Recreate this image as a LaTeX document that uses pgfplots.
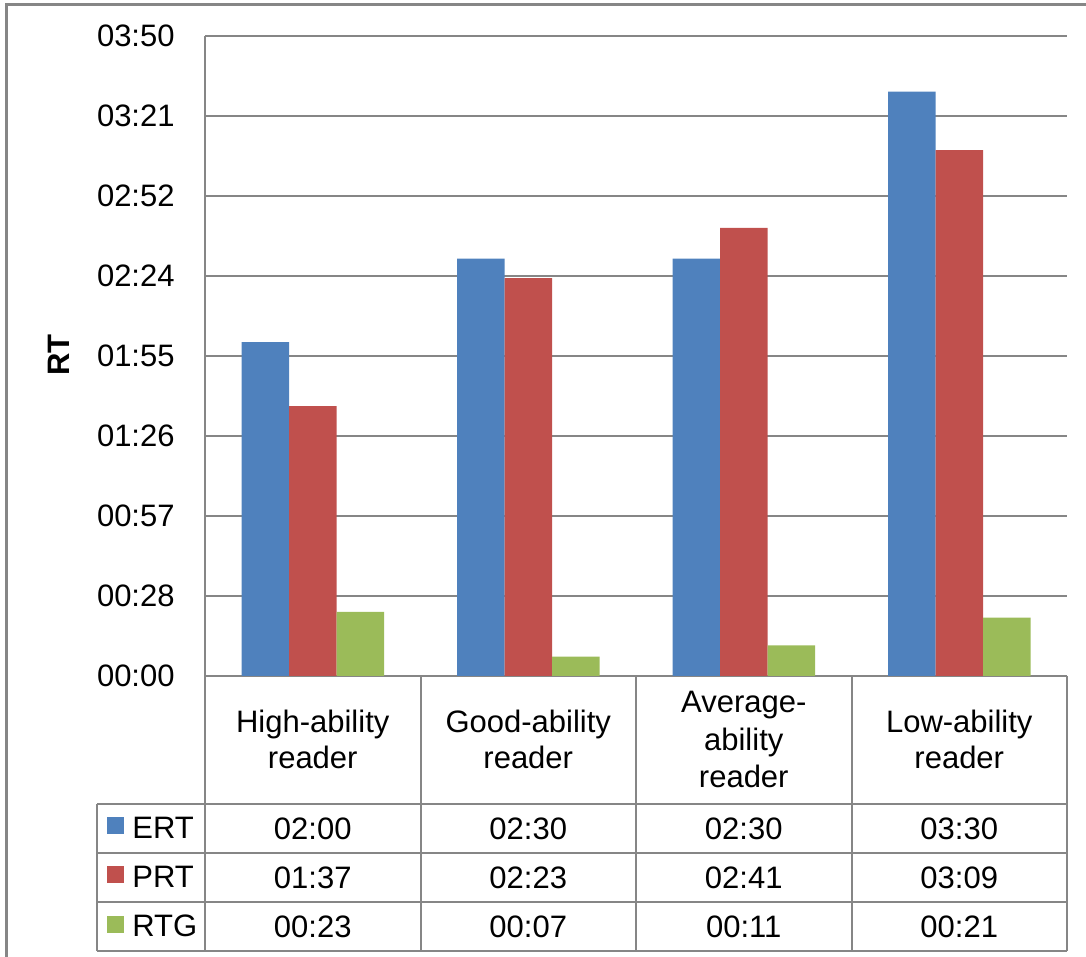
\documentclass[border=0pt]{standalone}
\usepackage{fontspec}
\setmainfont{Liberation Sans}
\usepackage{pgfplots}
\pgfplotsset{compat=1.18}

\definecolor{ertblue}{HTML}{4F81BD}
\definecolor{prtred}{HTML}{C0504D}
\definecolor{rtggreen}{HTML}{9BBB59}
\definecolor{rulegray}{HTML}{868686}

\begin{document}
\fontsize{15.5}{18.5}\selectfont
% one unit = one pixel of the finished picture
\begin{tikzpicture}[x=0.5pt, y=0.5pt, font=\fontsize{15.5}{18.5}\selectfont]
\useasboundingbox (0,0) rectangle (1086,957);

% chart frame
\draw[rulegray, line width=1.2pt] (6.5,-20) -- (6.5,952.5) -- (1120,952.5);

\coordinate (plotorigin) at (205,281);

\begin{axis}[
  at={(plotorigin)}, anchor=south west,
  scale only axis, width=431pt, height=320pt,
  xmin=-0.5, xmax=3.5, ymin=0, ymax=230,
  ybar=0pt, bar width=23.75pt,
  xtick=\empty,
  ytick={0,28.75,57.5,86.25,115,143.75,172.5,201.25,230},
  yticklabels={00:00,00:28,00:57,01:26,01:55,02:24,02:52,03:21,03:50},
  /pgf/number format/assume math mode=true,
  yticklabel style={inner sep=0pt, anchor=east, xshift=-15pt},
  major tick length=0pt,
  axis lines*=left,
  axis line style={rulegray, line width=1pt},
  ymajorgrids, grid style={rulegray, line width=1pt},
  clip=false,
]
% response times in seconds
\addplot[fill=ertblue, draw=none] coordinates {(0,120) (1,150) (2,150) (3,210)};
\addplot[fill=prtred, draw=none] coordinates {(0,97) (1,143) (2,161) (3,189)};
\addplot[fill=rtggreen, draw=none] coordinates {(0,23) (1,7) (2,11) (3,21)};
\end{axis}

% axis title
\node[rotate=90, font=\fontsize{15.5}{18.5}\selectfont\bfseries] at (59,602) {RT};

% data table grid
\begin{scope}[rulegray, line width=1pt]
  \foreach \yy in {153,104,55,6} \draw (97,\yy) -- (1067,\yy);
  \draw (97,153) -- (97,6);
  \foreach \xx in {205,420.5,636,851.5,1067} \draw (\xx,281) -- (\xx,6);
\end{scope}

% category headings
\begin{scope}[every node/.style={inner sep=0pt, anchor=base}]
  \node at (312.75,224) {High-ability};
  \node at (312.75,188) {reader};
  \node at (528.25,224) {Good-ability};
  \node at (528.25,188) {reader};
  \node at (743.75,244) {Average-};
  \node at (743.75,206) {ability};
  \node at (743.75,169) {reader};
  \node at (959.25,224) {Low-ability};
  \node at (959.25,188) {reader};
\end{scope}

% legend keys
\fill[ertblue] (107,122.5) rectangle (124,139.5);
\fill[prtred] (107,73.5) rectangle (124,90.5);
\fill[rtggreen] (107,24) rectangle (124,41);
\begin{scope}[every node/.style={inner sep=0pt, anchor=base west}]
  \node at (132,118.5) {ERT};
  \node at (132,69.5) {PRT};
  \node at (132,20.5) {RTG};
\end{scope}

% table values (mm:ss)
\begin{scope}[every node/.style={inner sep=0pt, anchor=base}]
  \node at (312.75,117.5) {02:00};
  \node at (528.25,117.5) {02:30};
  \node at (743.75,117.5) {02:30};
  \node at (959.25,117.5) {03:30};
  \node at (312.75,68.5) {01:37};
  \node at (528.25,68.5) {02:23};
  \node at (743.75,68.5) {02:41};
  \node at (959.25,68.5) {03:09};
  \node at (312.75,19.5) {00:23};
  \node at (528.25,19.5) {00:07};
  \node at (743.75,19.5) {00:11};
  \node at (959.25,19.5) {00:21};
\end{scope}
\end{tikzpicture}
\end{document}
